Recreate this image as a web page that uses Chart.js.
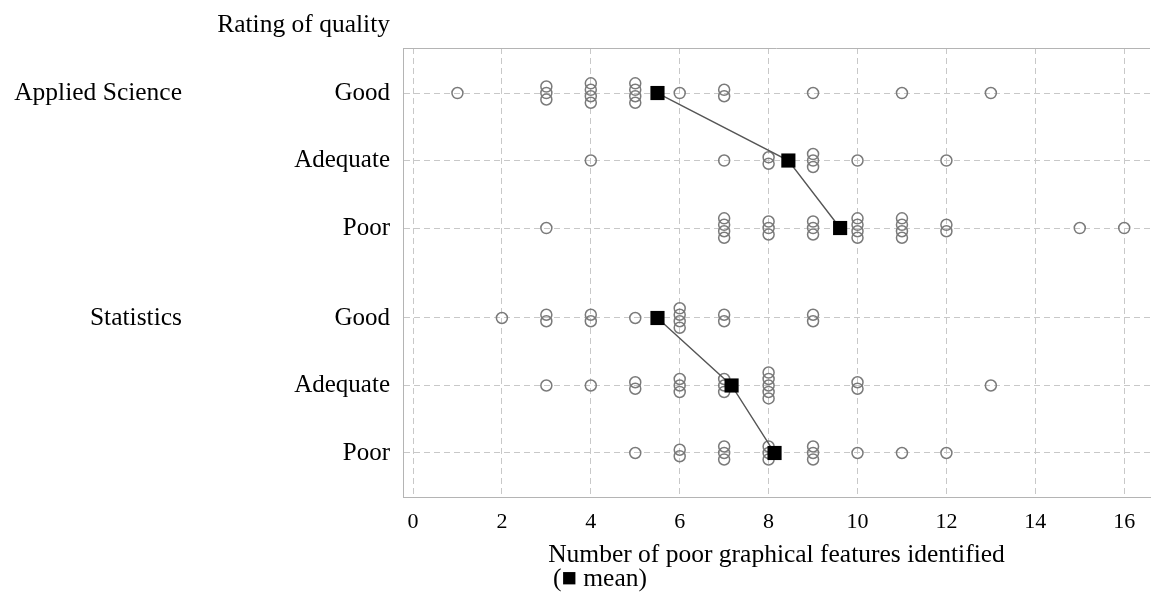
<!DOCTYPE html>
<html><head><meta charset="utf-8">
<script src="https://cdn.jsdelivr.net/npm/chart.js@4"></script>
<style>html,body{margin:0;padding:0;background:#fff}</style>
</head><body>
<canvas id="c" width="1152" height="592"></canvas>
<script>
const groups = ['Applied Science', 'Statistics'];
const ratings = ['Good', 'Adequate', 'Poor'];
const rowPositions = [0, 1, 2, 3.333, 4.333, 5.333];
const xTicks = [0, 2, 4, 6, 8, 10, 12, 14, 16];
const appliedGood = [1,3,3,3,4,4,4,4,5,5,5,5,6,7,7,9,11,13];
const appliedAdequate = [4,7,8,8,9,9,9,10,12];
const appliedPoor = [3,7,7,7,7,8,8,8,9,9,9,10,10,10,10,11,11,11,11,12,12,15,16];
const statsGood = [2,3,3,4,4,5,6,6,6,6,7,7,9,9];
const statsAdequate = [3,4,5,5,6,6,6,7,7,7,8,8,8,8,8,10,10,13];
const statsPoor = [5,6,6,7,7,7,8,8,8,9,9,9,10,11,12];

const rows = [appliedGood, appliedAdequate, appliedPoor, statsGood, statsAdequate, statsPoor];
const STACK = 0.096;
const FONT = 'Liberation Serif';

function stacked(values, base) {
  const counts = {};
  values.forEach(v => counts[v] = (counts[v] || 0) + 1);
  const pts = [];
  Object.keys(counts).forEach(k => {
    const n = counts[k];
    for (let i = 0; i < n; i++) pts.push({x: +k, y: base + (i - (n - 1) / 2) * STACK});
  });
  return pts;
}
const mean = a => a.reduce((s, v) => s + v, 0) / a.length;

const meanSets = [0, 1].map(g => ({
  data: [0, 1, 2].map(r => ({x: mean(rows[g * 3 + r]), y: rowPositions[g * 3 + r]})),
  showLine: true,
  borderColor: '#555555',
  borderWidth: 1.4,
  pointStyle: 'rect',
  pointRadius: 10,
  pointBackgroundColor: '#000',
  pointBorderColor: '#000',
  pointBorderWidth: 0
}));
const dotSets = rows.map((vals, r) => ({
  data: stacked(vals, rowPositions[r]),
  showLine: false,
  pointStyle: 'circle',
  pointRadius: 5.5,
  borderColor: '#7a7a7a',
  borderWidth: 1.5,
  backgroundColor: 'rgba(0,0,0,0)'
}));

const extras = {
  id: 'extras',
  afterDraw(chart) {
    const {ctx, chartArea: a, scales: {y}} = chart;
    ctx.save();
    ctx.strokeStyle = '#b4b4b4';
    ctx.lineWidth = 1;
    ctx.beginPath();
    ctx.moveTo(a.left, a.top + 0.5);
    ctx.lineTo(a.right, a.top + 0.5);
    ctx.stroke();
    ctx.fillStyle = '#000';
    ctx.font = '25.5px "' + FONT + '"';
    ctx.textBaseline = 'middle';
    ctx.textAlign = 'right';
    ctx.fillText('Rating of quality', a.left - 13, 25);
    groups.forEach((g, i) => ctx.fillText(g, a.left - 221, y.getPixelForValue(rowPositions[i * 3])));
    ctx.textAlign = 'center';
    ctx.fillText('Number of poor graphical features identified', (a.left + a.right) / 2, 555);
    ctx.textAlign = 'left';
    ctx.fillText('(\u25A0 mean)', 553, 579);
    ctx.restore();
  }
};

new Chart(document.getElementById('c'), {
  type: 'scatter',
  data: {datasets: [...meanSets, ...dotSets]},
  plugins: [extras],
  options: {
    responsive: false,
    devicePixelRatio: 1,
    animation: false,
    events: [],
    layout: {autoPadding: false, padding: {top: 48, right: 2, left: 0, bottom: 0}},
    plugins: {legend: {display: false}, tooltip: {enabled: false}},
    scales: {
      x: {
        type: 'linear', min: -0.225, max: 16.58,
        afterBuildTicks: s => { s.ticks = xTicks.map(v => ({value: v})); },
        afterFit: s => { s.height = 95; s.paddingLeft = 0; s.paddingRight = 0; },
        grid: {color: '#c8c8c8', lineWidth: 1, drawTicks: false},
        border: {display: true, color: '#b4b4b4', dash: [6, 4]},
        ticks: {font: {family: FONT, size: 22}, color: '#000', padding: 12}
      },
      y: {
        type: 'linear', min: -0.667, max: 5.985, reverse: true,
        afterBuildTicks: s => { s.ticks = rowPositions.map(v => ({value: v})); },
        afterFit: s => { s.width = 403; s.paddingTop = 0; s.paddingBottom = 0; },
        grid: {color: '#c8c8c8', lineWidth: 1, drawTicks: false},
        border: {display: true, color: '#b4b4b4', dash: [6, 4]},
        ticks: {
          font: {family: FONT, size: 25}, color: '#000', padding: 13,
          callback: v => ratings[rowPositions.indexOf(v) % 3]
        }
      }
    }
  }
});
</script>
</body></html>
